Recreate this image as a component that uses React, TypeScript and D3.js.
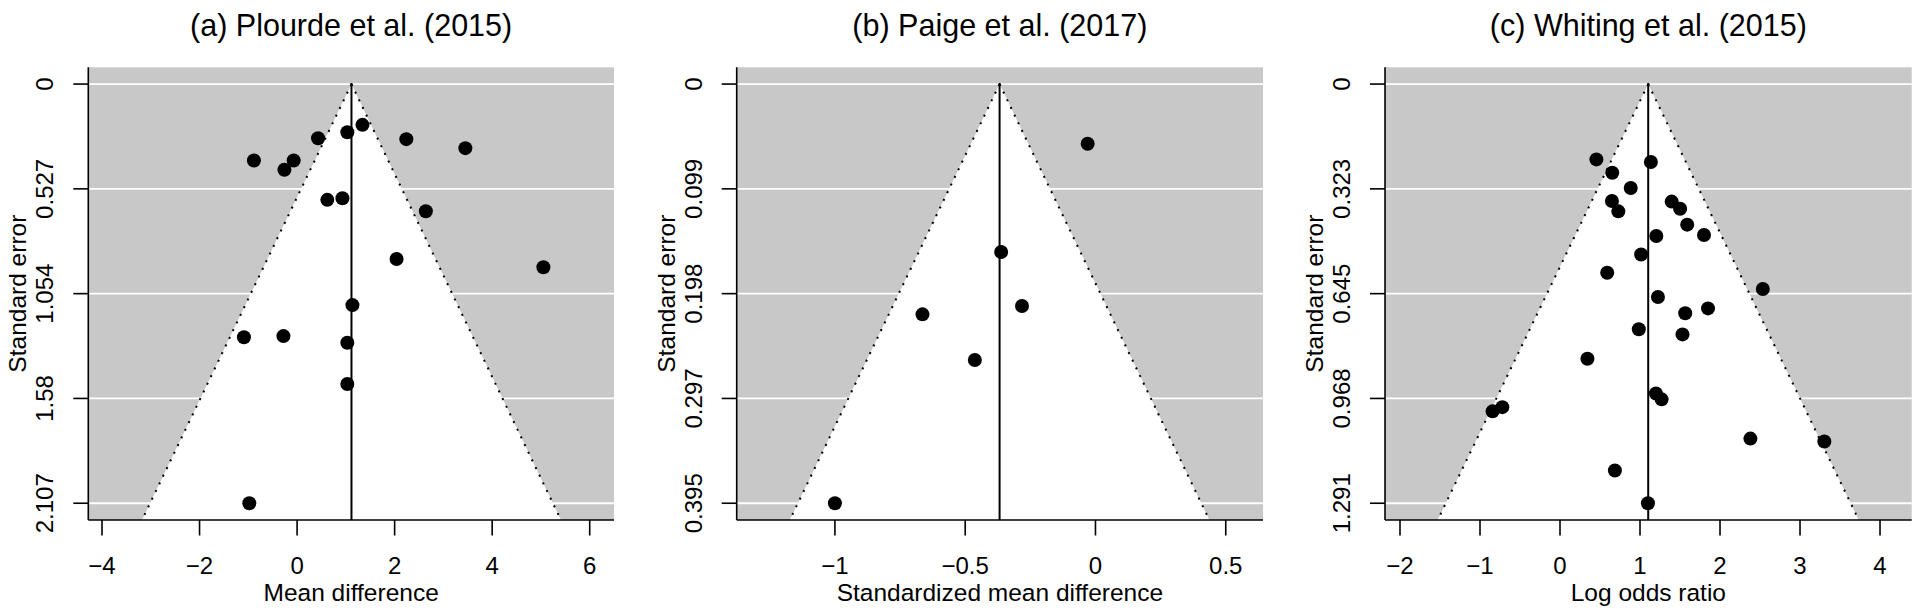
import React from "react";
import * as d3 from "d3";

// ---------- DATA ----------
// (a) Plourde et al. (2015) — mean difference
const plourdeEffect = [1.34, 1.03, 0.43, 2.24, 3.45, -0.885, -0.07, -0.26, 0.62, 0.93, 2.64, 2.04, 5.05, 1.135, -1.09, -0.28, 1.03, 1.03, -0.98];
const plourdeSE = [0.205, 0.242, 0.272, 0.277, 0.322, 0.384, 0.384, 0.431, 0.582, 0.574, 0.639, 0.879, 0.921, 1.111, 1.273, 1.267, 1.3, 1.508, 2.107];
const plourdeCenter = 1.115;
const plourdeSEMax = 2.107;
const plourdeXLim = [-4.281, 6.498];
const plourdeXTicks = [-4, -2, 0, 2, 4, 6];
const plourdeYTickLabels = ["0", "0.527", "1.054", "1.58", "2.107"];

// (b) Paige et al. (2017) — standardized mean difference
const paigeEffect = [-0.03, -0.362, -0.282, -0.664, -0.463, -1.0];
const paigeSE = [0.0562, 0.1583, 0.2091, 0.217, 0.26, 0.395];
const paigeCenter = -0.368;
const paigeSEMax = 0.395;
const paigeXLim = [-1.377, 0.643];
const paigeXTicks = [-1, -0.5, 0, 0.5];
const paigeYTickLabels = ["0", "0.099", "0.198", "0.297", "0.395"];

// (c) Whiting et al. (2015) — log odds ratio
const whitingEffect = [0.455, 1.136, 0.653, 0.884, 0.649, 1.396, 1.501, 0.729, 1.59, 1.8, 1.204, 1.014, 0.59, 2.535, 1.224, 1.85, 1.565, 0.985, 1.531, 0.343, 1.199, 1.27, -0.721, -0.843, 2.38, 3.304, 0.686, 1.099];
const whitingSE = [0.232, 0.24, 0.273, 0.32, 0.36, 0.362, 0.384, 0.392, 0.433, 0.465, 0.468, 0.525, 0.581, 0.631, 0.656, 0.691, 0.706, 0.755, 0.771, 0.846, 0.953, 0.971, 0.995, 1.008, 1.092, 1.101, 1.19, 1.291];
const whitingCenter = 1.1025;
const whitingSEMax = 1.291;
const whitingXLim = [-2.1875, 4.396];
const whitingXTicks = [-2, -1, 0, 1, 2, 3, 4];
const whitingYTickLabels = ["0", "0.323", "0.645", "0.968", "1.291"];

const titles = ["(a) Plourde et al. (2015)", "(b) Paige et al. (2017)", "(c) Whiting et al. (2015)"];
const xTitles = ["Mean difference", "Standardized mean difference", "Log odds ratio"];
const yTitle = "Standard error";

// ---------- LAYOUT ----------
const W = 1920;
const H = 615;
const TOP = 67.3;
const BOTTOM = 520;
const FONT = "'Liberation Sans', Arial, Helvetica, sans-serif";
const GREY = "#c8c8c8";

const panelLefts = [88.3, 736.7, 1385];
const panelRights = [614, 1263, 1911.7];

const fmt = (v: number) => {
  const s = d3.format("")(v);
  return s.replace("-", "\u2212");
};

type PanelProps = {
  idx: number;
  effect: number[];
  se: number[];
  center: number;
  seMax: number;
  xLim: number[];
  xTicks: number[];
  yTickLabels: string[];
};

function Panel({ idx, effect, se, center, seMax, xLim, xTicks, yTickLabels }: PanelProps) {
  const left = panelLefts[idx];
  const right = panelRights[idx];
  const x = d3.scaleLinear().domain(xLim).range([left, right]);
  const seLo = -0.04 * seMax;
  const seHi = 1.04 * seMax;
  const y = d3.scaleLinear().domain([seLo, seHi]).range([TOP, BOTTOM]);
  const yTicks = d3.range(5).map((i) => (i * seMax) / 4);
  const z = 1.96;
  const funnel = [
    [x(center), y(0)],
    [x(center - z * seHi), y(seHi)],
    [x(center + z * seHi), y(seHi)],
  ];
  const line = d3.line();
  const cx = (left + right) / 2;
  const cy = (TOP + BOTTOM) / 2;
  const clipId = `clip-${idx}`;
  return (
    <g>
      <defs>
        <clipPath id={clipId}>
          <rect x={left} y={TOP} width={right - left} height={BOTTOM - TOP} />
        </clipPath>
      </defs>
      <rect x={left} y={TOP} width={right - left} height={BOTTOM - TOP} fill={GREY} />
      {yTicks.map((t, i) => (
        <line key={i} x1={left} x2={right} y1={y(t)} y2={y(t)} stroke="#ffffff" strokeWidth={1.8} />
      ))}
      <path d={line(funnel as [number, number][]) + "Z"} fill="#ffffff" clipPath={`url(#${clipId})`} />
      <line x1={funnel[0][0]} y1={funnel[0][1]} x2={funnel[1][0]} y2={funnel[1][1]} stroke="#000" strokeWidth={2} strokeDasharray="2,6.5" />
      <line x1={funnel[0][0]} y1={funnel[0][1]} x2={funnel[2][0]} y2={funnel[2][1]} stroke="#000" strokeWidth={2} strokeDasharray="2,6.5" />
      <line x1={x(center)} x2={x(center)} y1={y(0) - 1} y2={BOTTOM} stroke="#000" strokeWidth={2} />
      {effect.map((e, i) => (
        <circle key={i} cx={x(e)} cy={y(se[i])} r={7} fill="#000" />
      ))}
      {/* axes */}
      <line x1={left} x2={left} y1={TOP} y2={BOTTOM} stroke="#000" strokeWidth={1.6} />
      <line x1={left} x2={right} y1={BOTTOM} y2={BOTTOM} stroke="#000" strokeWidth={1.6} />
      {yTicks.map((t, i) => (
        <g key={i}>
          <line x1={left - 15} x2={left} y1={y(t)} y2={y(t)} stroke="#000" strokeWidth={1.6} />
          <text
            transform={`translate(${left - 35},${y(t)}) rotate(-90)`}
            textAnchor="middle"
            fontFamily={FONT}
            fontSize={24}
            fill="#000"
          >
            {yTickLabels[i]}
          </text>
        </g>
      ))}
      {xTicks.map((t, i) => (
        <g key={i}>
          <line x1={x(t)} x2={x(t)} y1={BOTTOM} y2={BOTTOM + 15.5} stroke="#000" strokeWidth={1.6} />
          <text x={x(t)} y={574} textAnchor="middle" fontFamily={FONT} fontSize={24} fill="#000">
            {fmt(t)}
          </text>
        </g>
      ))}
      <text x={cx} y={601} textAnchor="middle" fontFamily={FONT} fontSize={24.5} fill="#000">
        {xTitles[idx]}
      </text>
      <text
        transform={`translate(${left - 62},${cy}) rotate(-90)`}
        textAnchor="middle"
        fontFamily={FONT}
        fontSize={24.5}
        fill="#000"
      >
        {yTitle}
      </text>
      <text x={cx} y={36} textAnchor="middle" fontFamily={FONT} fontSize={30.5} fill="#000">
        {titles[idx]}
      </text>
    </g>
  );
}

export default function App() {
  return (
    <svg
      width={W}
      height={H}
      viewBox={`0 0 ${W} ${H}`}
      style={{ position: "absolute", left: 0, top: 0, background: "#fff" }}
    >
      <rect x={0} y={0} width={W} height={H} fill="#fff" />
      <Panel idx={0} effect={plourdeEffect} se={plourdeSE} center={plourdeCenter} seMax={plourdeSEMax} xLim={plourdeXLim} xTicks={plourdeXTicks} yTickLabels={plourdeYTickLabels} />
      <Panel idx={1} effect={paigeEffect} se={paigeSE} center={paigeCenter} seMax={paigeSEMax} xLim={paigeXLim} xTicks={paigeXTicks} yTickLabels={paigeYTickLabels} />
      <Panel idx={2} effect={whitingEffect} se={whitingSE} center={whitingCenter} seMax={whitingSEMax} xLim={whitingXLim} xTicks={whitingXTicks} yTickLabels={whitingYTickLabels} />
    </svg>
  );
}
